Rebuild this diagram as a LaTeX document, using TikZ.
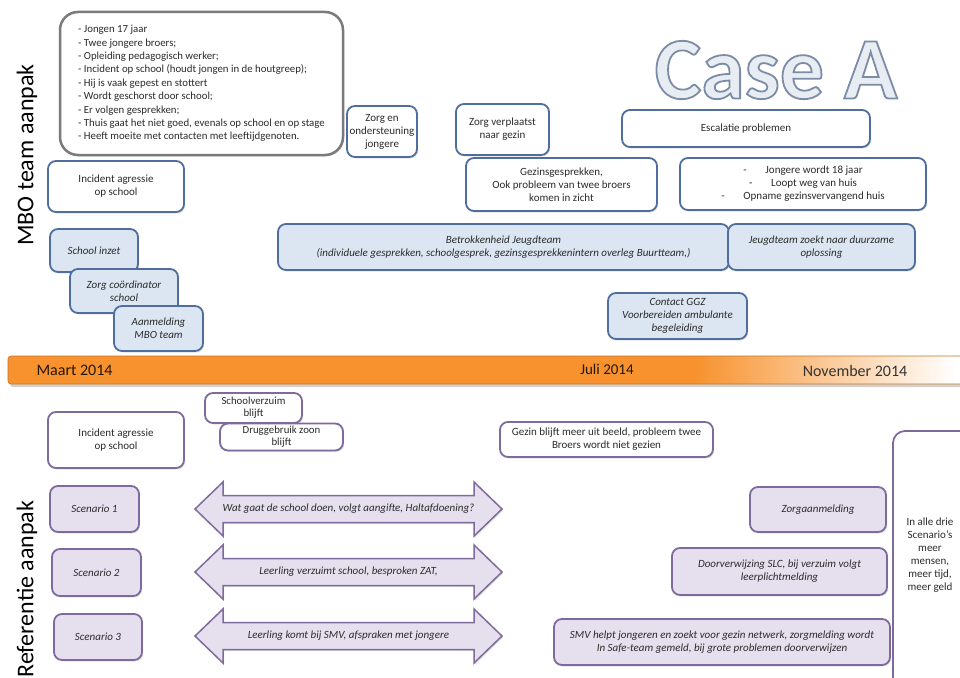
\documentclass[tikz,border=0pt]{standalone}
\usepackage{fontspec}
\setmainfont{Carlito}
\usetikzlibrary{shadows}
\definecolor{blueB}{HTML}{4F6E9E}
\definecolor{blueL}{HTML}{DCE6F2}
\definecolor{purB}{HTML}{7E6A9C}
\definecolor{purL}{HTML}{E6E0EE}
\definecolor{grayB}{HTML}{7A7A7A}
\definecolor{barO}{HTML}{F7922E}
\definecolor{txt}{HTML}{2B2B2B}
\definecolor{caseF}{HTML}{E8EDF4}
\pgfdeclarehorizontalshading{barshade}{100bp}{color(0bp)=(barO); color(25bp)=(barO); color(60.5bp)=(barO); color(74bp)=(white); color(100bp)=(white)}
\newcommand\outlinedtext[1]{{\color{caseF}\special{pdf:literal direct 2 Tr 1.8 w 0.49 0.55 0.65 RG}#1\special{pdf:literal direct 0 Tr}}}
\tikzset{
  base/.style={rounded corners=8pt, line width=1.8pt, align=center, inner sep=2pt, text=txt,
    font=\fontsize{11}{13}\selectfont,
    drop shadow={shadow xshift=1.2pt, shadow yshift=-1.5pt, opacity=0.22}},
  bbox/.style={base, draw=blueB, fill=white},
  bboxi/.style={base, draw=blueB, fill=blueL, font=\fontsize{11}{13}\selectfont\itshape},
  pbox/.style={base, draw=purB, fill=white},
  pboxi/.style={base, draw=purB, fill=purL, font=\fontsize{11}{13}\selectfont\itshape},
  sz/.style 2 args={minimum width=#1pt, minimum height=#2pt},
  infobox/.style={rounded corners=18pt, draw=grayB, line width=2.5pt, fill=white, align=left,
    text=txt, font=\fontsize{10.8}{13.4}\selectfont,
    drop shadow={shadow xshift=1.2pt, shadow yshift=-1.5pt, opacity=0.2}},
  sidelabel/.style={rotate=90, font=\fontsize{24}{24}\selectfont, text=black},
  barlabel/.style={text=black!85!barO, font=\fontsize{16}{16}\selectfont},
  arrowshape/.style={draw=purB, fill=purL, line width=1.5pt, line join=miter,
    drop shadow={shadow xshift=1.2pt, shadow yshift=-1.5pt, opacity=0.22}},
  arrtext/.style={text=txt, font=\fontsize{11}{13}\selectfont\itshape}
}
\newcommand\dblarrow[3]{%
  \path[arrowshape] (195,#1) -- (223,#1-27) -- (223,#1-13.5) -- (474,#1-13.5) -- (474,#1-27)
    -- (502,#1) -- (474,#1+27) -- (474,#1+13.5) -- (223,#1+13.5) -- (223,#1+27) -- cycle;
  \node[arrtext] (#2) at (348.5,#1) {#3};}
\begin{document}
\begin{tikzpicture}[x=1pt,y=-1pt]
\useasboundingbox (0,0) rectangle (960,677);
\fill[white] (0,0) rectangle (960,677);
\clip (0,0) rectangle (960,677);

% side labels
\node[sidelabel] (mbo) at (27,155) {MBO team aanpak};
\node[sidelabel] (ref) at (27,589) {Referentie aanpak};

% title
\node[font=\fontsize{88}{88}\selectfont\bfseries, inner sep=0pt] (title) at (776,70) {\outlinedtext{Case A}};

% info box
\node[infobox, sz={283}{143}] (info) at (201.5,83.5) {%
- Jongen 17 jaar\\
- Twee jongere broers;\\
- Opleiding pedagogisch werker;\\
- Incident op school (houdt jongen in de houtgreep);\\
- Hij is vaak gepest en stottert\\
- Wordt geschorst door school;\\
- Er volgen gesprekken;\\
- Thuis gaat het niet goed, evenals op school en op stage\\
- Heeft moeite met contacten met leeftijdgenoten.};

% top (MBO) boxes
\node[bbox, sz={70}{51}] (zorgen) at (382,131.5) {Zorg en\\ondersteuning\\jongere};
\node[bbox, sz={93}{51}] (zorgverpl) at (502.5,129.5) {Zorg verplaatst\\naar gezin};
\node[bbox, sz={248}{37}] (escal) at (746,128.5) {Escalatie problemen};
\node[bbox, sz={136}{51}] (inctop) at (116,186.5) {Incident agressie\\op school};
\node[bbox, sz={191}{53}] (gezins) at (561.5,184.5) {Gezinsgesprekken,\\Ook probleem van twee broers\\komen in zicht};
\node[bbox, sz={246}{52}] (jong18) at (803,184) {-\hspace{1.7em}Jongere wordt 18 jaar\\-\hspace{1.7em}Loopt weg van huis\\-\hspace{1.7em}Opname gezinsvervangend huis};
\node[bboxi, sz={451}{46}] (betrok) at (503.5,247) {Betrokkenheid Jeugdteam\\(individuele gesprekken, schoolgesprek, gezinsgesprekkenintern overleg Buurtteam,)};
\node[bboxi, sz={187}{46}] (duurzaam) at (821.5,247) {Jeugdteam zoekt naar duurzame\\oplossing};
\node[bboxi, sz={88}{43}] (inzet) at (94,250.5) {School inzet};
\node[bboxi, sz={108}{44}] (coord) at (124,291) {Zorg coördinator\\school};
\node[bboxi, sz={89}{45}] (aanmeld) at (158.5,328.5) {Aanmelding\\MBO team};
\node[bboxi, sz={139}{46}] (ggz) at (677.5,316) {Contact GGZ\\Voorbereiden ambulante\\begeleiding};

% timeline bar
\fill[black, opacity=0.18, rounded corners=3pt] (10,359) rectangle (975,387);
\path[shading=barshade, rounded corners=3pt] (8,356) rectangle (975,384);
\draw[barO!80!black, line width=0.6pt, rounded corners=3pt] (975,356) -- (8,356) -- (8,384) -- (975,384);
\node[barlabel, anchor=west] (maart) at (33,370) {Maart 2014};
\node[barlabel, font=\fontsize{15}{15}\selectfont] (juli) at (607,369.5) {Juli 2014};
\node[barlabel, text=black!80] (nov) at (855,370.5) {November 2014};

% lower (referentie) boxes
\node[pbox, sz={136}{56}] (incbot) at (116,440) {Incident agressie\\op school};
\node[pbox, sz={97}{30}, font=\fontsize{10.8}{12}\selectfont] (verzuim) at (253.5,408) {Schoolverzuim\\blijft};
\node[pbox, sz={123}{27}, font=\fontsize{10.8}{12}\selectfont] (drugs) at (281.5,437) {Druggebruik zoon\\blijft};
\node[pbox, sz={213}{35}] (uitbeeld) at (606.5,439.5) {Gezin blijft meer uit beeld, probleem twee\\Broers wordt niet gezien};

\node[pboxi, sz={89}{46}] (sc1) at (94.5,509) {Scenario 1};
\node[pboxi, sz={89}{47}] (sc2) at (96.5,572.5) {Scenario 2};
\node[pboxi, sz={88}{46}] (sc3) at (98,637) {Scenario 3};

\dblarrow{509}{arr1}{Wat gaat de school doen, volgt aangifte, Haltafdoening?}
\dblarrow{572}{arr2}{Leerling verzuimt school, besproken ZAT,}
\dblarrow{636}{arr3}{Leerling komt bij SMV, afspraken met jongere}

\node[pboxi, sz={136}{45}] (zorgaan) at (818,509.5) {Zorgaanmelding};
\node[pboxi, sz={215}{47}] (doorverw) at (779.5,571.5) {Doorverwijzing SLC, bij verzuim volgt\\leerplichtmelding};
\node[pboxi, sz={336}{46}] (smv) at (722,642) {SMV helpt jongeren en zoekt voor gezin netwerk, zorgmelding wordt\\In Safe-team gemeld, bij grote problemen doorverwijzen};

\node[pbox, rounded corners=12pt, sz={90}{270}] (drie) at (938,566) {};
\node[text=txt, align=center, font=\fontsize{11}{12.9}\selectfont] (drietxt) at (930,555) {In alle drie\\Scenario’s\\meer\\mensen,\\meer tijd,\\meer geld};
\end{tikzpicture}
\end{document}
